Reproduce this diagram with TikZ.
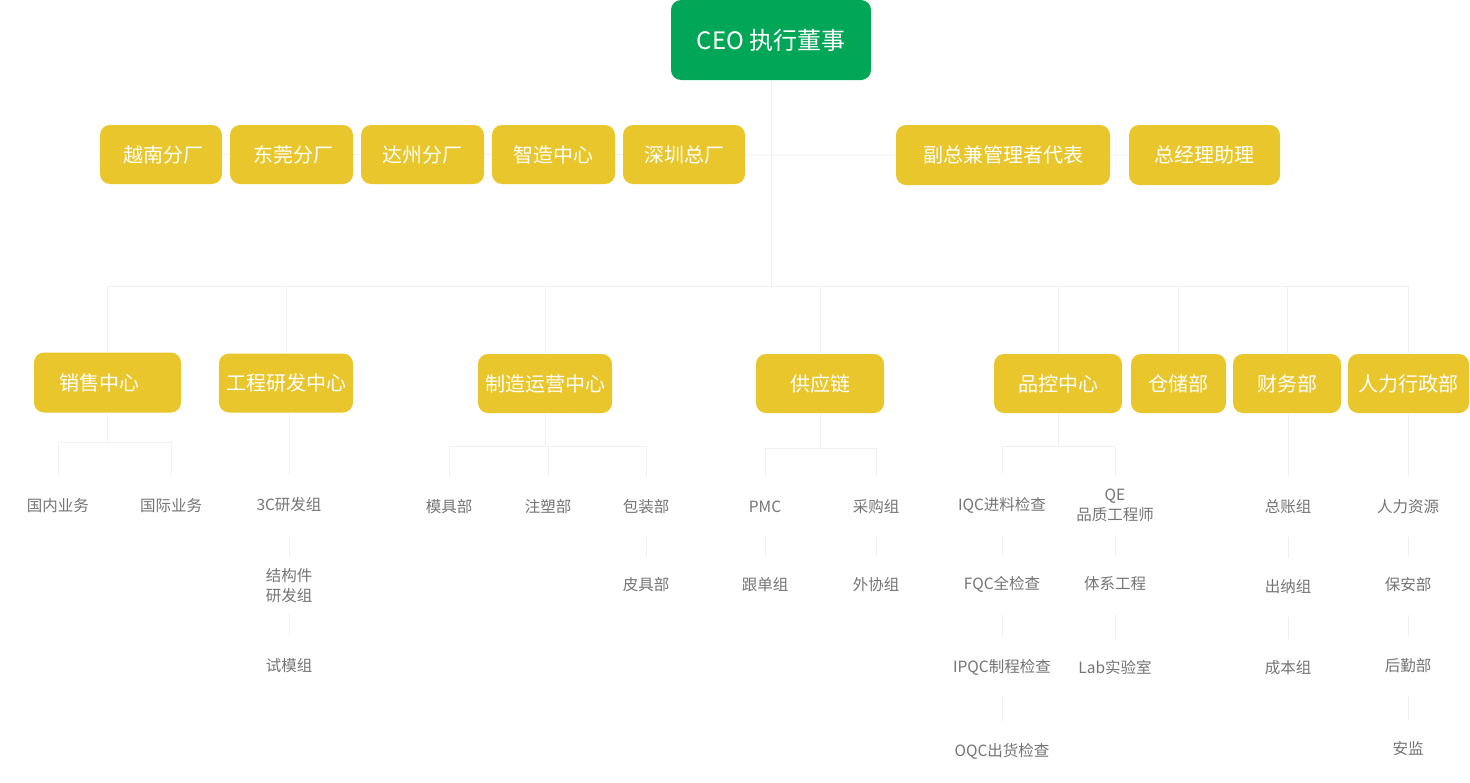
\documentclass[tikz,border=0pt]{standalone}
\usepackage{fontspec}
\setmainfont{Noto Sans CJK SC}
\usetikzlibrary{backgrounds}
\definecolor{ceogreen}{HTML}{02A657}
\definecolor{boxyellow}{HTML}{E9C62B}
\definecolor{subgray}{HTML}{747474}
\definecolor{linegray}{HTML}{F1F1F1}
\begin{document}
\begin{tikzpicture}[x=1pt,y=-1pt,
  ybox/.style={fill=boxyellow, rounded corners=10pt, text=white, font=\fontsize{20}{24}\selectfont, inner sep=0pt, minimum height=59pt},
  gbox/.style={fill=ceogreen, rounded corners=10pt, text=white, font=\fontsize{24}{28}\selectfont, inner sep=0pt, minimum height=80pt, minimum width=200pt},
  sub/.style={text=subgray, font=\fontsize{15.5}{20}\selectfont, inner sep=0pt, text height=13pt, text depth=2pt},
  subtwo/.style={text=subgray, font=\fontsize{15.5}{20}\selectfont, inner sep=0pt, align=center},
  link/.style={draw=linegray, line width=1pt},
  sublink/.style={link, shorten <=22pt, shorten >=21pt},
  droplink/.style={link, shorten >=23pt}]
\useasboundingbox (0,0) rectangle (1470,782);

% top
\node[gbox] (ceo) at (771,40) {CEO 执行董事};
\node[ybox, minimum width=122pt] (yn) at (161,154.5) {\hspace*{4pt}越南分厂};
\node[ybox, minimum width=123pt] (dg) at (291.5,154.5) {\hspace*{4pt}东莞分厂};
\node[ybox, minimum width=123pt] (dz) at (422.5,154.5) {达州分厂};
\node[ybox, minimum width=123pt] (zz) at (553.5,154.5) {智造中心};
\node[ybox, minimum width=122pt] (sz) at (684,154.5) {深圳总厂};
\node[ybox, minimum width=214pt, minimum height=60pt] (fz) at (1003,155) {副总兼管理者代表};
\node[ybox, minimum width=151pt, minimum height=60pt] (zl) at (1204.5,155) {总经理助理};

% second level
\node[ybox, minimum width=147pt, minimum height=60pt] (xs) at (107.5,382.5) {\hspace*{-17pt}销售中心};
\node[ybox, minimum width=134pt] (gc) at (286,383) {工程研发中心};
\node[ybox, minimum width=134pt] (zy) at (545,383.5) {制造运营中心};
\node[ybox, minimum width=128pt] (gy) at (820,383.5) {供应链};
\node[ybox, minimum width=128pt] (pk) at (1058,383.5) {品控中心};
\node[ybox, minimum width=95pt] (cc) at (1178.5,383.5) {仓储部};
\node[ybox, minimum width=108pt] (cw) at (1287,383.5) {财务部};
\node[ybox, minimum width=121pt] (rl) at (1408.5,383.5) {人力行政部};

\coordinate (busL) at (107.5,286);
\coordinate (busR) at (1408.5,286);

% third level
\node[sub] (t1) at (58,506) {国内业务};
\node[sub] (t2) at (171,506) {国际业务};
\node[sub] (e1) at (289,505) {3C研发组};
\node[subtwo] (e2) at (289,586) {结构件\\研发组};
\node[sub] (e3) at (289,666) {试模组};
\node[sub] (m1) at (449,507) {模具部};
\node[sub] (m2) at (548,507) {注塑部};
\node[sub] (m3) at (646,507) {包装部};
\node[sub] (m4) at (646,585) {皮具部};
\node[sub] (s1) at (765,507) {PMC};
\node[sub] (s2) at (876,507) {采购组};
\node[sub] (s3) at (765,585) {跟单组};
\node[sub] (s4) at (876,585) {外协组};
\node[sub] (q1) at (1002,505) {IQC进料检查};
\node[subtwo] (q2) at (1115,505) {QE\\品质工程师};
\node[sub] (q3) at (1002,584) {FQC全检查};
\node[sub] (q4) at (1115,584) {体系工程};
\node[sub] (q5) at (1002,667) {IPQC制程检查};
\node[sub] (q6) at (1115,668) {Lab实验室};
\node[sub] (q7) at (1002,751) {OQC出货检查};
\node[sub] (f1) at (1288,507) {总账组};
\node[sub] (f2) at (1288,587) {出纳组};
\node[sub] (f3) at (1288,668) {成本组};
\node[sub] (h1) at (1408,507) {人力资源};
\node[sub] (h2) at (1408,585) {保安部};
\node[sub] (h3) at (1408,666) {后勤部};
\node[sub] (h4) at (1408,749) {安监};

\begin{scope}[on background layer]
  \draw[link] (yn.center) -- (zl.center);
  \draw[link] (ceo.south) -- (ceo.south |- busL);
  \draw[link] (busL) -- (busR);
  \foreach \n in {xs,gc,zy,gy,pk,cc,cw,rl}
    \draw[link] (\n.north) -- (\n.north |- busL);
  % sales
  \draw[droplink] (xs.south) -- ++(0,29.5) -| (t1.north);
  \draw[droplink] (xs.south) -- ++(0,29.5) -| (t2.north);
  % engineering
  \draw[droplink] (gc.south -| e1) -- (e1.north);
  \draw[link, shorten <=23pt, shorten >=13pt] (e1.south) -- (e2.north);
  \draw[link, shorten <=11pt, shorten >=23pt] (e2.south) -- (e3.north);
  % manufacturing
  \draw[droplink] (zy.south) -- ++(0,33) -| (m1.north);
  \draw[droplink] (zy.south) -- ++(0,33) -| (m2.north);
  \draw[droplink] (zy.south) -- ++(0,33) -| (m3.north);
  \draw[sublink] (m3) -- (m4);
  % supply chain
  \draw[droplink] (gy.south) -- ++(0,35) -| (s1.north);
  \draw[droplink] (gy.south) -- ++(0,35) -| (s2.north);
  \draw[sublink] (s1.south) -- (s3.north);
  \draw[sublink] (s2.south) -- (s4.north);
  % quality
  \draw[droplink] (pk.south) -- ++(0,33) -| (q1.north);
  \draw[link, shorten >=12pt] (pk.south) -- ++(0,33) -| (q2.north);
  \draw[sublink] (q1.south) -- (q3.north);
  \draw[sublink] (q3.south) -- (q5.north);
  \draw[sublink] (q5.south) -- (q7.north);
  \draw[link, shorten <=13pt, shorten >=20pt] (q2.south) -- (q4.north);
  \draw[sublink] (q4.south) -- (q6.north);
  % finance
  \draw[droplink] (cw.south -| f1) -- (f1.north);
  \draw[sublink] (f1.south) -- (f2.north);
  \draw[sublink] (f2.south) -- (f3.north);
  % HR
  \draw[droplink] (rl.south -| h1) -- (h1.north);
  \draw[sublink] (h1.south) -- (h2.north);
  \draw[sublink] (h2.south) -- (h3.north);
  \draw[sublink] (h3.south) -- (h4.north);
\end{scope}
\end{tikzpicture}
\end{document}
